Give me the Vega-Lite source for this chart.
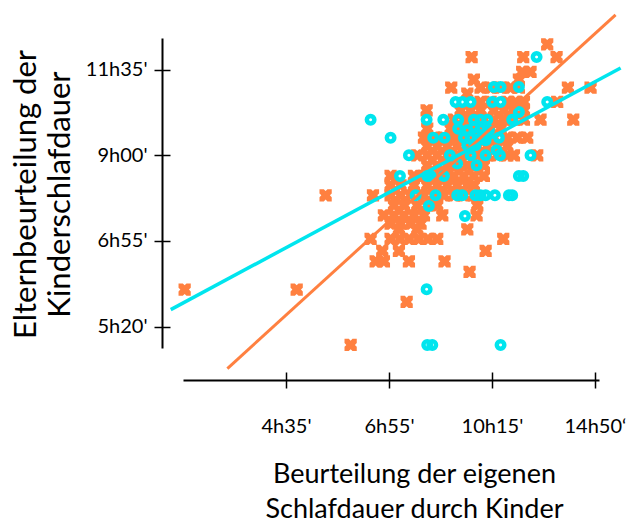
{
  "$schema": "https://vega.github.io/schema/vega-lite/v6.json",
  "width": 416,
  "height": 310,
  "autosize": "none",
  "padding": {"left": 183, "top": 38, "right": 31, "bottom": 177},
  "background": "white",
  "config": {"view": {"stroke": null}, "font": "Lato", "axis": {"grid": false}},
  "datasets": {
    "punkte": [
      {"gruppe":"A","kind":3.537,"eltern":4.296},
      {"gruppe":"A","kind":2.803,"eltern":4.148},{"gruppe":"A","kind":3.304,"eltern":4.148},{"gruppe":"A","kind":3.628,"eltern":4.148},
      {"gruppe":"A","kind":3.294,"eltern":3.973},{"gruppe":"A","kind":3.375,"eltern":3.973},
      {"gruppe":"A","kind":2.825,"eltern":3.883},{"gruppe":"A","kind":3.262,"eltern":3.883},
      {"gruppe":"A","kind":2.605,"eltern":3.79},{"gruppe":"A","kind":2.890,"eltern":3.79},{"gruppe":"A","kind":2.987,"eltern":3.79},{"gruppe":"A","kind":3.084,"eltern":3.79},{"gruppe":"A","kind":3.181,"eltern":3.79},{"gruppe":"A","kind":3.262,"eltern":3.79},{"gruppe":"A","kind":3.738,"eltern":3.79},{"gruppe":"A","kind":3.958,"eltern":3.79},
      {"gruppe":"A","kind":2.761,"eltern":3.72},
      {"gruppe":"A","kind":2.890,"eltern":3.623},{"gruppe":"A","kind":2.987,"eltern":3.623},{"gruppe":"A","kind":3.149,"eltern":3.623},{"gruppe":"A","kind":3.230,"eltern":3.623},{"gruppe":"A","kind":3.311,"eltern":3.623},{"gruppe":"A","kind":3.634,"eltern":3.623},
      {"gruppe":"A","kind":2.366,"eltern":3.525},{"gruppe":"A","kind":2.696,"eltern":3.525},{"gruppe":"A","kind":2.793,"eltern":3.525},{"gruppe":"A","kind":2.890,"eltern":3.525},{"gruppe":"A","kind":3.019,"eltern":3.525},{"gruppe":"A","kind":3.117,"eltern":3.525},{"gruppe":"A","kind":3.214,"eltern":3.525},{"gruppe":"A","kind":3.311,"eltern":3.525},
      {"gruppe":"A","kind":2.631,"eltern":3.416},{"gruppe":"A","kind":2.728,"eltern":3.416},{"gruppe":"A","kind":2.825,"eltern":3.416},{"gruppe":"A","kind":2.922,"eltern":3.416},{"gruppe":"A","kind":3.019,"eltern":3.416},{"gruppe":"A","kind":3.117,"eltern":3.416},{"gruppe":"A","kind":3.214,"eltern":3.416},{"gruppe":"A","kind":3.311,"eltern":3.416},{"gruppe":"A","kind":3.472,"eltern":3.416},{"gruppe":"A","kind":3.790,"eltern":3.416},
      {"gruppe":"A","kind":2.372,"eltern":3.311},{"gruppe":"A","kind":2.599,"eltern":3.311},{"gruppe":"A","kind":2.696,"eltern":3.311},{"gruppe":"A","kind":2.793,"eltern":3.311},{"gruppe":"A","kind":2.890,"eltern":3.311},{"gruppe":"A","kind":2.987,"eltern":3.311},{"gruppe":"A","kind":3.084,"eltern":3.311},
      {"gruppe":"A","kind":2.340,"eltern":3.206},{"gruppe":"A","kind":2.437,"eltern":3.206},{"gruppe":"A","kind":2.534,"eltern":3.206},{"gruppe":"A","kind":2.631,"eltern":3.206},{"gruppe":"A","kind":2.728,"eltern":3.206},{"gruppe":"A","kind":2.825,"eltern":3.206},{"gruppe":"A","kind":2.922,"eltern":3.206},{"gruppe":"A","kind":3.019,"eltern":3.206},{"gruppe":"A","kind":3.149,"eltern":3.206},{"gruppe":"A","kind":3.246,"eltern":3.206},{"gruppe":"A","kind":3.343,"eltern":3.206},
      {"gruppe":"A","kind":2.372,"eltern":3.105},{"gruppe":"A","kind":2.469,"eltern":3.105},{"gruppe":"A","kind":2.566,"eltern":3.105},{"gruppe":"A","kind":2.663,"eltern":3.105},{"gruppe":"A","kind":2.761,"eltern":3.105},{"gruppe":"A","kind":2.858,"eltern":3.105},{"gruppe":"A","kind":2.955,"eltern":3.105},{"gruppe":"A","kind":3.052,"eltern":3.105},{"gruppe":"A","kind":3.149,"eltern":3.105},
      {"gruppe":"A","kind":2.275,"eltern":3.0},{"gruppe":"A","kind":2.372,"eltern":3.0},{"gruppe":"A","kind":2.469,"eltern":3.0},{"gruppe":"A","kind":2.566,"eltern":3.0},{"gruppe":"A","kind":2.663,"eltern":3.0},{"gruppe":"A","kind":2.761,"eltern":3.0},{"gruppe":"A","kind":2.858,"eltern":3.0},{"gruppe":"A","kind":2.955,"eltern":3.0},{"gruppe":"A","kind":3.052,"eltern":3.0},{"gruppe":"A","kind":3.149,"eltern":3.0},{"gruppe":"A","kind":3.214,"eltern":3.0},{"gruppe":"A","kind":3.440,"eltern":3.0},
      {"gruppe":"A","kind":2.372,"eltern":2.883},{"gruppe":"A","kind":2.469,"eltern":2.883},{"gruppe":"A","kind":2.566,"eltern":2.883},{"gruppe":"A","kind":2.663,"eltern":2.883},{"gruppe":"A","kind":2.761,"eltern":2.883},{"gruppe":"A","kind":2.858,"eltern":2.883},{"gruppe":"A","kind":2.922,"eltern":2.883},
      {"gruppe":"A","kind":2.016,"eltern":2.759},{"gruppe":"A","kind":2.243,"eltern":2.759},{"gruppe":"A","kind":2.340,"eltern":2.759},{"gruppe":"A","kind":2.437,"eltern":2.759},{"gruppe":"A","kind":2.534,"eltern":2.759},{"gruppe":"A","kind":2.631,"eltern":2.759},{"gruppe":"A","kind":2.728,"eltern":2.759},{"gruppe":"A","kind":2.825,"eltern":2.759},{"gruppe":"A","kind":2.922,"eltern":2.759},
      {"gruppe":"A","kind":2.016,"eltern":2.65},{"gruppe":"A","kind":2.113,"eltern":2.65},{"gruppe":"A","kind":2.243,"eltern":2.65},{"gruppe":"A","kind":2.372,"eltern":2.65},{"gruppe":"A","kind":2.469,"eltern":2.65},{"gruppe":"A","kind":2.566,"eltern":2.65},{"gruppe":"A","kind":2.663,"eltern":2.65},{"gruppe":"A","kind":2.761,"eltern":2.65},{"gruppe":"A","kind":2.825,"eltern":2.65},
      {"gruppe":"A","kind":1.385,"eltern":2.533},{"gruppe":"A","kind":1.845,"eltern":2.533},{"gruppe":"A","kind":2.016,"eltern":2.533},{"gruppe":"A","kind":2.113,"eltern":2.533},{"gruppe":"A","kind":2.210,"eltern":2.533},{"gruppe":"A","kind":2.340,"eltern":2.533},{"gruppe":"A","kind":2.437,"eltern":2.533},{"gruppe":"A","kind":2.534,"eltern":2.533},{"gruppe":"A","kind":2.631,"eltern":2.533},{"gruppe":"A","kind":2.728,"eltern":2.533},{"gruppe":"A","kind":2.825,"eltern":2.533},
      {"gruppe":"A","kind":2.049,"eltern":2.416},{"gruppe":"A","kind":2.146,"eltern":2.416},{"gruppe":"A","kind":2.275,"eltern":2.416},{"gruppe":"A","kind":2.372,"eltern":2.416},{"gruppe":"A","kind":2.469,"eltern":2.416},{"gruppe":"A","kind":2.858,"eltern":2.416},
      {"gruppe":"A","kind":1.951,"eltern":2.3},{"gruppe":"A","kind":2.049,"eltern":2.3},{"gruppe":"A","kind":2.146,"eltern":2.3},{"gruppe":"A","kind":2.243,"eltern":2.3},{"gruppe":"A","kind":2.340,"eltern":2.3},{"gruppe":"A","kind":2.518,"eltern":2.3},{"gruppe":"A","kind":2.851,"eltern":2.3},
      {"gruppe":"A","kind":2.016,"eltern":2.202},{"gruppe":"A","kind":2.113,"eltern":2.202},{"gruppe":"A","kind":2.210,"eltern":2.202},{"gruppe":"A","kind":2.307,"eltern":2.202},
      {"gruppe":"A","kind":2.097,"eltern":2.136},{"gruppe":"A","kind":2.275,"eltern":2.136},{"gruppe":"A","kind":2.761,"eltern":2.136},
      {"gruppe":"A","kind":1.822,"eltern":2.023},{"gruppe":"A","kind":2.016,"eltern":2.023},{"gruppe":"A","kind":2.107,"eltern":2.023},{"gruppe":"A","kind":2.197,"eltern":2.023},{"gruppe":"A","kind":2.288,"eltern":2.023},{"gruppe":"A","kind":2.379,"eltern":2.023},{"gruppe":"A","kind":2.469,"eltern":2.023},{"gruppe":"A","kind":3.110,"eltern":2.023},
      {"gruppe":"A","kind":1.935,"eltern":1.883},{"gruppe":"A","kind":2.097,"eltern":1.883},{"gruppe":"A","kind":2.939,"eltern":1.883},
      {"gruppe":"A","kind":1.871,"eltern":1.763},{"gruppe":"A","kind":1.951,"eltern":1.763},{"gruppe":"A","kind":2.194,"eltern":1.763},{"gruppe":"A","kind":2.540,"eltern":1.763},
      {"gruppe":"A","kind":2.783,"eltern":1.638},
      {"gruppe":"A","kind":0.016,"eltern":1.432},{"gruppe":"A","kind":1.104,"eltern":1.432},
      {"gruppe":"A","kind":2.172,"eltern":1.288},
      {"gruppe":"A","kind":1.628,"eltern":0.786},
      {"gruppe":"B","kind":3.434,"eltern":4.148},
      {"gruppe":"B","kind":3.019,"eltern":3.798},{"gruppe":"B","kind":3.084,"eltern":3.798},{"gruppe":"B","kind":3.262,"eltern":3.798},
      {"gruppe":"B","kind":2.647,"eltern":3.623},{"gruppe":"B","kind":2.712,"eltern":3.623},{"gruppe":"B","kind":2.793,"eltern":3.623},{"gruppe":"B","kind":3.003,"eltern":3.623},{"gruppe":"B","kind":3.084,"eltern":3.623},{"gruppe":"B","kind":3.537,"eltern":3.623},
      {"gruppe":"B","kind":3.262,"eltern":3.506},
      {"gruppe":"B","kind":1.822,"eltern":3.416},{"gruppe":"B","kind":2.366,"eltern":3.416},{"gruppe":"B","kind":2.528,"eltern":3.416},{"gruppe":"B","kind":2.673,"eltern":3.416},{"gruppe":"B","kind":2.825,"eltern":3.416},{"gruppe":"B","kind":2.890,"eltern":3.416},{"gruppe":"B","kind":2.955,"eltern":3.416},{"gruppe":"B","kind":3.197,"eltern":3.416},
      {"gruppe":"B","kind":2.673,"eltern":3.311},{"gruppe":"B","kind":2.825,"eltern":3.331},{"gruppe":"B","kind":2.890,"eltern":3.311},{"gruppe":"B","kind":2.761,"eltern":3.292},{"gruppe":"B","kind":2.858,"eltern":3.253},{"gruppe":"B","kind":2.971,"eltern":3.292},
      {"gruppe":"B","kind":2.016,"eltern":3.206},{"gruppe":"B","kind":2.430,"eltern":3.206},{"gruppe":"B","kind":2.540,"eltern":3.206},{"gruppe":"B","kind":2.728,"eltern":3.206},{"gruppe":"B","kind":2.793,"eltern":3.206},{"gruppe":"B","kind":2.890,"eltern":3.206},{"gruppe":"B","kind":2.939,"eltern":3.175},{"gruppe":"B","kind":3.068,"eltern":3.206},
      {"gruppe":"B","kind":2.761,"eltern":3.117},{"gruppe":"B","kind":2.841,"eltern":3.117},{"gruppe":"B","kind":3.045,"eltern":3.058},
      {"gruppe":"B","kind":2.194,"eltern":3.0},{"gruppe":"B","kind":2.592,"eltern":3.0},{"gruppe":"B","kind":2.793,"eltern":3.0},{"gruppe":"B","kind":2.939,"eltern":3.0},{"gruppe":"B","kind":3.078,"eltern":3.0},{"gruppe":"B","kind":3.375,"eltern":3.0},
      {"gruppe":"B","kind":2.663,"eltern":2.903},{"gruppe":"B","kind":2.851,"eltern":2.883},
      {"gruppe":"B","kind":2.107,"eltern":2.759},{"gruppe":"B","kind":2.372,"eltern":2.759},{"gruppe":"B","kind":2.405,"eltern":2.759},{"gruppe":"B","kind":2.534,"eltern":2.759},{"gruppe":"B","kind":3.262,"eltern":2.759},{"gruppe":"B","kind":3.304,"eltern":2.759},
      {"gruppe":"B","kind":2.259,"eltern":2.533},{"gruppe":"B","kind":2.453,"eltern":2.533},{"gruppe":"B","kind":2.663,"eltern":2.533},{"gruppe":"B","kind":2.712,"eltern":2.533},{"gruppe":"B","kind":2.841,"eltern":2.533},{"gruppe":"B","kind":2.890,"eltern":2.533},{"gruppe":"B","kind":2.939,"eltern":2.533},{"gruppe":"B","kind":3.029,"eltern":2.533},{"gruppe":"B","kind":3.165,"eltern":2.533},{"gruppe":"B","kind":3.197,"eltern":2.533},
      {"gruppe":"B","kind":2.388,"eltern":2.409},
      {"gruppe":"B","kind":2.738,"eltern":2.292},
      {"gruppe":"B","kind":2.366,"eltern":1.436},
      {"gruppe":"B","kind":2.372,"eltern":0.786},{"gruppe":"B","kind":2.421,"eltern":0.786},{"gruppe":"B","kind":3.084,"eltern":0.786}
    ],
    "linien": [
      {"gruppe":"A","kind":0.431,"eltern":0.510},
      {"gruppe":"A","kind":4.201,"eltern":4.640},
      {"gruppe":"B","kind":-0.119,"eltern":1.198},
      {"gruppe":"B","kind":4.25,"eltern":4.019}
    ]
  },
  "resolve": {"axis": {"x": "independent", "y": "independent"}},
  "layer": [
    {
      "data": {"name": "punkte"},
      "transform": [{"filter": "datum.gruppe == 'A'"}],
      "mark": {"type": "point", "shape": "M-1,-1L-0.3,-1L0,-0.7L0.3,-1L1,-1L1,-0.3L0.7,0L1,0.3L1,1L0.3,1L0,0.7L-0.3,1L-1,1L-1,0.3L-0.7,0L-1,-0.3Z", "filled": true, "color": "#FF8040", "size": 150, "opacity": 1, "strokeWidth": 0},
      "encoding": {
        "x": {
          "field": "kind", "type": "quantitative",
          "scale": {"domain": [0, 4.04], "nice": false, "zero": false},
          "axis": {
            "orient": "bottom",
            "values": [1, 2, 3, 4],
            "labelExpr": "[\"\", \"4h35'\", \"6h55'\", \"10h15'\", \"14h50‘\"][datum.value]",
            "offset": 32,
            "domainColor": "black", "domainWidth": 2,
            "tickColor": "black", "tickWidth": 1.5, "tickSize": 8,
            "labelFontSize": 20, "labelColor": "black", "labelBaseline": "alphabetic", "labelPadding": 44,
            "labelFlush": false, "labelOverlap": false,
            "title": ["Beurteilung der eigenen", "Schlafdauer durch Kinder"],
            "titleFontSize": 27, "titleFontWeight": "normal", "titleColor": "black",
            "titleX": 231, "titleY": 102, "titleAlign": "center", "titleBaseline": "alphabetic", "titleAngle": 0, "titleLineHeight": 35,
            "grid": false
          }
        },
        "y": {
          "field": "eltern", "type": "quantitative",
          "scale": {"domain": [0.75, 4.37], "nice": false, "zero": false},
          "axis": {
            "orient": "left",
            "values": [1, 2, 3, 4],
            "labelExpr": "[\"\", \"5h20'\", \"6h55'\", \"9h00'\", \"11h35'\"][datum.value]",
            "offset": 21,
            "domainColor": "black", "domainWidth": 2,
            "tickColor": "black", "tickWidth": 1.5, "tickSize": 8,
            "labelFontSize": 20, "labelColor": "black", "labelBaseline": "middle", "labelPadding": 7,
            "labelFlush": false, "labelOverlap": false,
            "title": ["Elternbeurteilung der", "Kinderschlafdauer"],
            "titleFontSize": 31, "titleFontWeight": "normal", "titleColor": "black",
            "titleX": -127, "titleY": 156, "titleAlign": "center", "titleBaseline": "alphabetic", "titleAngle": -90, "titleLineHeight": 34,
            "grid": false
          }
        }
      }
    },
    {
      "data": {"name": "punkte"},
      "transform": [{"filter": "datum.gruppe == 'B'"}],
      "mark": {"type": "point", "shape": "circle", "filled": false, "stroke": "#00E5EE", "size": 56, "opacity": 1, "strokeWidth": 4.5},
      "encoding": {
        "x": {"field": "kind", "type": "quantitative", "axis": null},
        "y": {"field": "eltern", "type": "quantitative", "axis": null}
      }
    },
    {
      "data": {"name": "linien"},
      "transform": [{"filter": "datum.gruppe == 'A'"}],
      "mark": {"type": "line", "color": "#FF8040", "strokeWidth": 3},
      "encoding": {
        "x": {"field": "kind", "type": "quantitative", "axis": {"orient": "bottom", "values": [1, 2, 3, 4], "offset": 32, "tickSize": -8, "tickColor": "black", "tickWidth": 1.5, "labels": false, "domain": false, "title": null, "grid": false}},
        "y": {"field": "eltern", "type": "quantitative", "axis": {"orient": "left", "values": [1, 2, 3, 4], "offset": 21, "tickSize": -8, "tickColor": "black", "tickWidth": 1.5, "labels": false, "domain": false, "title": null, "grid": false}}
      }
    },
    {
      "data": {"name": "linien"},
      "transform": [{"filter": "datum.gruppe == 'B'"}],
      "mark": {"type": "line", "color": "#00E5EE", "strokeWidth": 3.5},
      "encoding": {
        "x": {"field": "kind", "type": "quantitative", "axis": null},
        "y": {"field": "eltern", "type": "quantitative", "axis": null}
      }
    }
  ]
}
